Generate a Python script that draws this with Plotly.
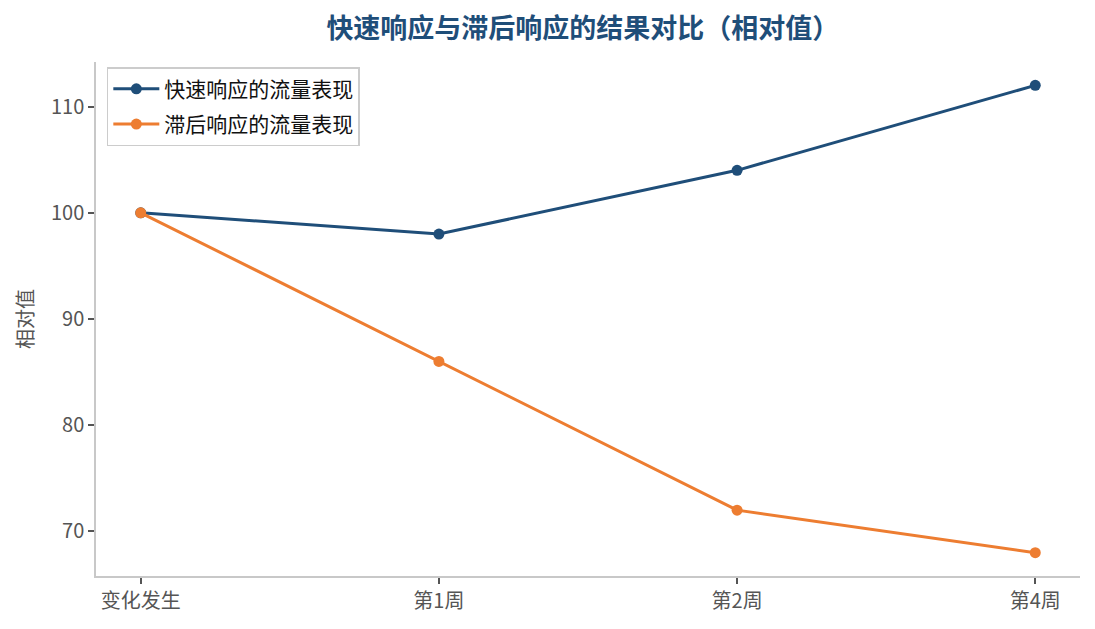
import plotly.graph_objects as go

# data
stages = ["变化发生", "第1周", "第2周", "第4周"]
fast_values = [100, 98, 104, 112]
lagged_values = [100, 86, 72, 68]
y_ticks = [70, 80, 90, 100, 110]

FONT = "Noto Sans CJK SC"
BLUE = "#1f4e79"
ORANGE = "#ed7d31"
GREY = "#555555"

fig = go.Figure()
fig.add_trace(go.Scatter(
    x=stages, y=fast_values, mode="lines+markers", name="快速响应的流量表现",
    legendgroup="fast",
    line=dict(color=BLUE, width=3), marker=dict(size=11, color=BLUE),
))
fig.add_trace(go.Scatter(
    x=stages, y=lagged_values, mode="lines+markers", name="滞后响应的流量表现",
    legendgroup="lagged",
    line=dict(color=ORANGE, width=3), marker=dict(size=11, color=ORANGE),
))

# the page adds an 8px body margin, so margins are reduced by that much
fig.update_layout(
    width=1095, height=629,
    margin=dict(l=88, r=23, t=54, b=61),
    paper_bgcolor="white", plot_bgcolor="white",
    font=dict(family=FONT, size=19, color=GREY),
    title=dict(
        text="<b>快速响应与滞后响应的结果对比（相对值）</b>",
        x=0.525, xanchor="center", y=0.968, yanchor="middle",
        font=dict(family=FONT, size=27, color=BLUE),
    ),
    legend=dict(
        x=0.011, y=0.99, xanchor="left", yanchor="top",
        bgcolor="white", bordercolor="#cccccc", borderwidth=1.5,
        tracegroupgap=5, itemwidth=46,
        font=dict(family=FONT, size=21, color="#111111"),
    ),
    showlegend=True,
)
fig.update_xaxes(
    range=[-0.15, 3.15], showgrid=False, zeroline=False, automargin=False,
    showline=True, linecolor="#c8c8c8", linewidth=1.5,
    ticks="outside", ticklen=6, tickcolor=GREY, tickwidth=1.5,
    tickfont=dict(family=FONT, size=20, color=GREY),
)
fig.update_yaxes(
    range=[65.8, 114.2], tickvals=y_ticks, showgrid=False, zeroline=False,
    automargin=False,
    showline=True, linecolor="#c8c8c8", linewidth=1.5,
    ticks="outside", ticklen=6, tickcolor=GREY, tickwidth=1.5,
    tickfont=dict(family=FONT, size=20, color=GREY),
    title=dict(text="相对值", font=dict(family=FONT, size=20, color=GREY), standoff=12),
)

fig.write_html("out.html")
